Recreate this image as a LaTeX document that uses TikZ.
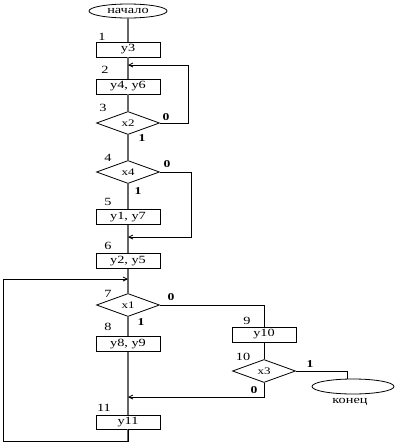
\documentclass[tikz,border=0pt]{standalone}
\usepackage{fontspec}
\setmainfont[FakeStretch=1.3]{Liberation Serif}
\usetikzlibrary{shapes.geometric,arrows.meta}

\tikzset{
	blok/.style={draw,line width=0.8pt,minimum width=64pt,minimum height=15pt,inner sep=0pt,font=\fontsize{11}{12}\selectfont},
	usl/.style={draw,line width=0.8pt,diamond,aspect=2.6,minimum width=63pt,minimum height=23pt,inner sep=0pt,font=\fontsize{10}{11}\selectfont},
	term/.style={draw,line width=0.8pt,ellipse,inner sep=0pt,font=\fontsize{11}{12}\selectfont},
	num/.style={font=\fontsize{11}{12}\selectfont},
	vyh/.style={font=\fontsize{10.5}{11}\selectfont\bfseries},
	osn/.style={draw=black!60,line width=1.6pt},
	sv/.style={line width=0.8pt,-{Straight Barb[length=4pt,width=4pt]}},
}

\begin{document}
\begin{tikzpicture}[x=1pt,y=-1pt]
		\useasboundingbox (0,0) rectangle (400,445);
		
		% blocks
		\node[term,minimum width=78pt,minimum height=14pt] (start) at (128,11) {начало};
		\node[blok] (b1) at (128,49.5) {у3};
		\node[blok] (b2) at (128,86.5) {у4, у6};
		\node[usl] (d3) at (128,123) {x2};
		\node[usl] (d4) at (128,172) {x4};
		\node[blok] (b5) at (128,217) {у1, у7};
		\node[blok] (b6) at (128,261) {у2, у5};
		\node[usl] (d7) at (128,305) {x1};
		\node[blok] (b8) at (128,344) {у8, у9};
		\node[blok] (b9) at (264,334.5) {у10};
		\node[usl] (d10) at (264,371) {x3};
		\node[blok,minimum height=14pt] (b11) at (128,422) {у11};
		\node[term,minimum width=82pt,minimum height=15pt] (end) at (353,386.5) {};
		\node[term,draw=none] (endtxt) at (350,402) {конец};
		
		% numbers
		\node[num] (n1) at (102,37) {1};
		\node[num] (n2) at (105,70) {2};
		\node[num] (n3) at (103,108) {3};
		\node[num] (n4) at (108,158) {4};
		\node[num] (n5) at (108,202) {5};
		\node[num] (n6) at (108,246) {6};
		\node[num] (n7) at (108,294) {7};
		\node[num] (n8) at (108,327) {8};
		\node[num] (n9) at (247,321) {9};
		\node[num] (n10) at (243,357) {10};
		\node[num] (n11) at (104,408) {11};
		
		% branch labels
		\node[vyh] (o3) at (166,117) {0};
		\node[vyh] (e3) at (142,138) {1};
		\node[vyh] (o4) at (167,164) {0};
		\node[vyh] (e4) at (138,191) {1};
		\node[vyh] (o7) at (171,297) {0};
		\node[vyh] (e7) at (141,322) {1};
		\node[vyh] (e10) at (310,364) {1};
		\node[vyh] (o10) at (254,390) {0};
		
		% joins on the main line
		\coordinate (in2) at (128,65);
		\coordinate (in6) at (128,237);
		\coordinate (in7) at (128,279);
		\coordinate (in11) at (128,397);
		\coordinate (lu) at (3,441);
		
		% main line
		\draw[osn] (start) -- (b1) -- (b2) -- (d3) -- (d4) -- (b5) -- (b6) -- (d7) -- (b8) -- (b11);
		\draw[osn] (b11.south) -- (128,441);
		
		% loops
		\draw[sv] (d3.east) -- ++(28,0) |- (in2);
		\draw[sv] (d4.east) -- ++(31,0) |- (in6);
		\draw[sv] (b11.south) |- (lu) |- (in7);
		\draw[line width=0.8pt] (d7.east) -| (b9.north);
		\draw[line width=0.8pt] (b9) -- (d10);
		\draw[line width=0.8pt] (d10.east) -| ([xshift=-6pt]end.north);
		\draw[sv] (d10.south) |- (in11);
		\end{tikzpicture}
\end{document}
